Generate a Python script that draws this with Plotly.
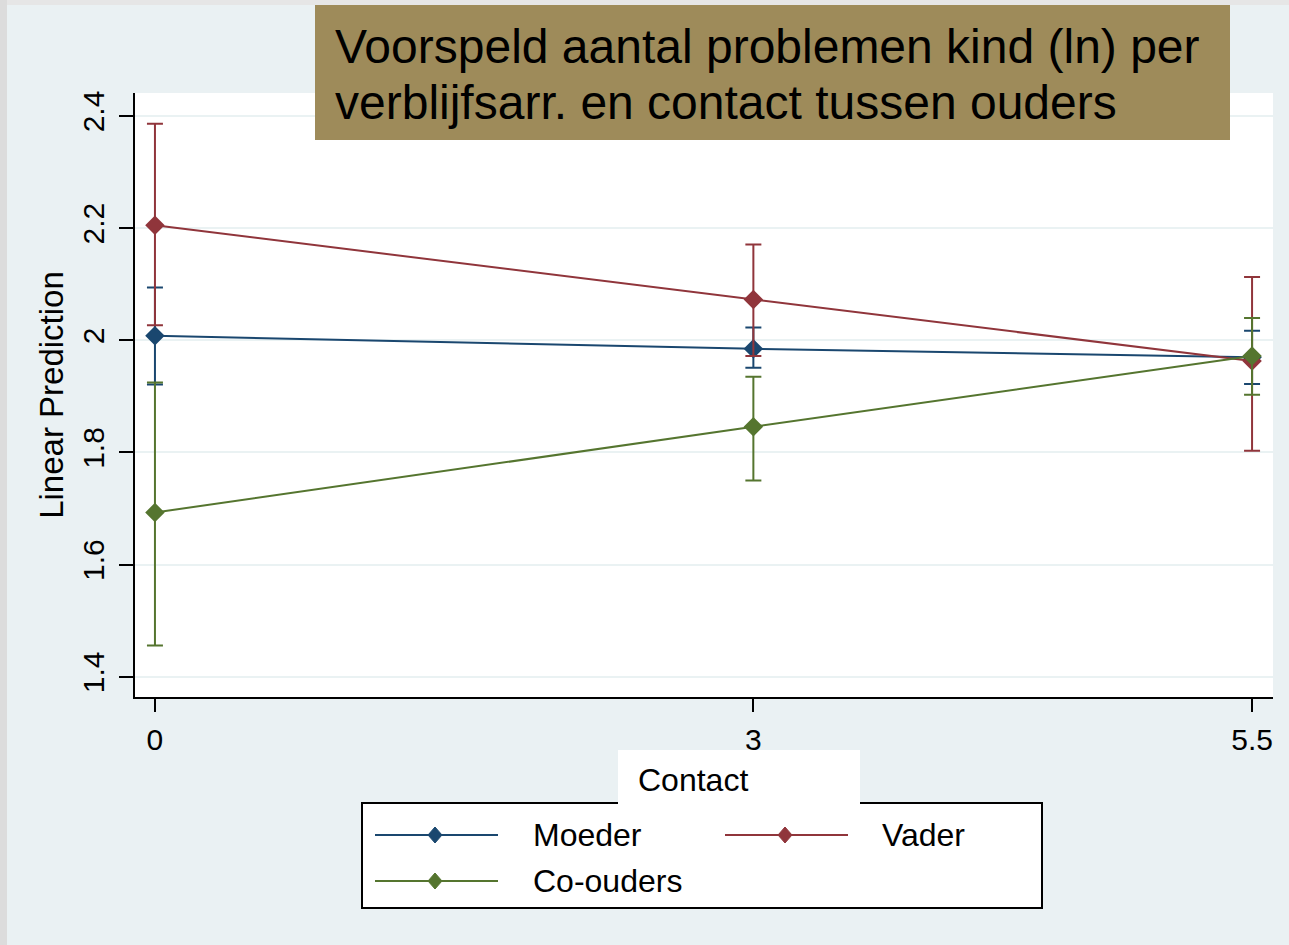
import plotly.graph_objects as go

# data
contact = [0, 3, 5.5]
groups = ["Moeder", "Vader", "Co-ouders"]
colors = ["#1a476f", "#90353b", "#55752f"]

moeder = [2.008, 1.985, 1.970]
moeder_hi = [2.094, 2.023, 2.017]
moeder_lo = [1.921, 1.951, 1.922]

vader = [2.205, 2.073, 1.963]
vader_hi = [2.386, 2.171, 2.113]
vader_lo = [2.027, 1.972, 1.803]

coouders = [1.693, 1.846, 1.972]
coouders_hi = [1.925, 1.935, 2.040]
coouders_lo = [1.456, 1.750, 1.903]

yticks = [1.4, 1.6, 1.8, 2.0, 2.2, 2.4]
yticklabels = ["1.4", "1.6", "1.8", "2", "2.2", "2.4"]
xticklabels = ["0", "3", "5.5"]

W, H = 1289, 945
L, R, T, B = 135, 1273, 93, 697
FONT = "Liberation Sans, Arial, sans-serif"


def px(x):
    return (x - L) / (R - L)


def py(y):
    return (B - y) / (B - T)


fig = go.Figure()

series = [(moeder, moeder_hi, moeder_lo), (vader, vader_hi, vader_lo), (coouders, coouders_hi, coouders_lo)]
for name, col, (v, hi, lo) in zip(groups, colors, series):
    fig.add_trace(go.Scatter(
        x=contact, y=v, name=name, mode="lines+markers",
        line=dict(color=col, width=2),
        marker=dict(symbol="diamond", size=15, color=col),
        error_y=dict(type="data", symmetric=False,
                     array=[h - m for h, m in zip(hi, v)],
                     arrayminus=[m - l for m, l in zip(v, lo)],
                     color=col, thickness=2, width=8),
        showlegend=False))

shapes = []
# outer grey frame edges
shapes.append(dict(type="rect", xref="paper", yref="paper", x0=px(0), x1=px(W), y0=py(0), y1=py(5),
                   fillcolor="#e6e6e6", line_width=0, layer="below"))
shapes.append(dict(type="rect", xref="paper", yref="paper", x0=px(0), x1=px(7), y0=py(H), y1=py(0),
                   fillcolor="#dcdcdc", line_width=0, layer="below"))
# title box
shapes.append(dict(type="rect", xref="paper", yref="paper", x0=px(315), x1=px(1230), y0=py(140), y1=py(5),
                   fillcolor="#9e8b5a", line_width=0, layer="above"))
# legend box
shapes.append(dict(type="rect", xref="paper", yref="paper", x0=px(362), x1=px(1042), y0=py(908), y1=py(803),
                   fillcolor="white", line=dict(color="black", width=2)))
shapes.append(dict(type="rect", xref="paper", yref="paper", x0=px(618), x1=px(860), y0=py(805), y1=py(750),
                   fillcolor="white", line_width=0))

annotations = [
    dict(text="Voorspeld aantal problemen kind (ln) per", x=px(333), y=py(47), xref="paper", yref="paper",
         xanchor="left", yanchor="middle", showarrow=False, font=dict(family=FONT, size=48, color="black")),
    dict(text="verblijfsarr. en contact tussen ouders", x=px(333), y=py(103), xref="paper", yref="paper",
         xanchor="left", yanchor="middle", showarrow=False, font=dict(family=FONT, size=48, color="black")),
    dict(text="Contact", x=px(636), y=py(780), xref="paper", yref="paper",
         xanchor="left", yanchor="middle", showarrow=False, font=dict(family=FONT, size=32, color="black")),
]

# legend entries
legend_pos = [(375, 835, 531), (725, 835, 880), (375, 881, 531)]
for name, col, (lx, ly, tx) in zip(groups, colors, legend_pos):
    shapes.append(dict(type="line", xref="paper", yref="paper", x0=px(lx), x1=px(lx + 123), y0=py(ly), y1=py(ly),
                       line=dict(color=col, width=2)))
    cx = lx + 60
    d = "M {} {} L {} {} L {} {} L {} {} Z".format(px(cx), py(ly - 8), px(cx + 7), py(ly), px(cx), py(ly + 8), px(cx - 7), py(ly))
    shapes.append(dict(type="path", xref="paper", yref="paper", path=d, fillcolor=col, line=dict(color=col, width=1)))
    annotations.append(dict(text=name, x=px(tx), y=py(ly), xref="paper", yref="paper", xanchor="left",
                            yanchor="middle", showarrow=False, font=dict(family=FONT, size=32, color="black")))

fig.update_layout(
    width=W, height=H,
    margin=dict(l=L, r=W - R, t=T, b=H - B),
    paper_bgcolor="#eaf1f3", plot_bgcolor="white",
    font=dict(family=FONT, color="black"),
    shapes=shapes, annotations=annotations,
    xaxis=dict(range=[-0.1, 5.605], tickvals=contact, ticktext=xticklabels, showgrid=False, zeroline=False,
               showline=True, linecolor="black", linewidth=2, ticks="outside", ticklen=13, tickwidth=2,
               tickcolor="black", tickfont=dict(size=30), ticklabelstandoff=2),
    yaxis=dict(range=[1.364, 2.441], tickvals=yticks, ticktext=yticklabels, tickangle=-90,
               showgrid=True, gridcolor="#eaf2f3", gridwidth=2, zeroline=False,
               showline=True, linecolor="black", linewidth=2, ticks="outside", ticklen=14, tickwidth=2,
               tickcolor="black", tickfont=dict(size=30), ticklabelstandoff=3,
               title=dict(text="Linear Prediction", font=dict(size=33), standoff=3)),
)

fig.write_html("out.html", config={"displayModeBar": False},
               post_script="document.body.style.margin='0';")
